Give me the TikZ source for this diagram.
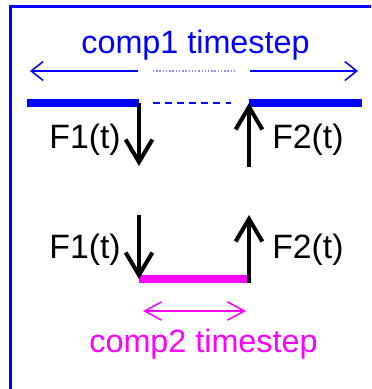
\documentclass[tikz,border=0pt]{standalone}
\usepackage{fontspec}
\setmainfont{Liberation Sans}
\usetikzlibrary{arrows.meta}
\definecolor{stepblue}{HTML}{0000FF}
\definecolor{steppink}{HTML}{FF00FF}
\definecolor{stepfaint}{HTML}{8C8CFF}

\begin{document}
\begin{tikzpicture}[
  x=0.025cm,
  y=-0.025cm,
  every node/.style={font=\fontsize{23}{27}\selectfont, inner sep=0pt},
  flabel/.style={font=\fontsize{24}{28}\selectfont},
  frame/.style={stepblue, line width=1.5pt},
  span/.style={line width=1.1pt},
  bar/.style={line width=5.7pt},
  gap/.style={stepblue, line width=1.4pt, dash pattern=on 5pt off 3.6pt},
  flux/.style={black, line width=2.9pt, -{Straight Barb[length=16pt, width=19pt]}}
]
  % ---- page and the visible part of the frame ---------------------------
  \useasboundingbox (0,0) rectangle (371,389);
  \draw[frame] (10.5,389) -- (10.5,6.5) -- (371,6.5);

  % ---- comp1 timestep ---------------------------------------------------
  \node[stepblue, anchor=base] (comp1) at (195.5,53) {comp1 timestep};
  \coordinate (c1a) at (30,71);
  \coordinate (c1b) at (138,71);
  \coordinate (c1c) at (250,71);
  \coordinate (c1d) at (358,71);
  \draw[span, stepblue, {Straight Barb[length=8.5pt, width=13.5pt]}-] (c1a) -- (c1b);
  \draw[span, stepblue, -{Straight Barb[length=8.5pt, width=13.5pt]}] (c1c) -- (c1d);
  \draw[stepfaint, line width=0.9pt, dash pattern=on 1pt off 1.3pt] (153,71) -- (235,71);

  % ---- the two comp1 steps ----------------------------------------------
  \coordinate (b1a) at (27,103);
  \coordinate (b1b) at (139,103);
  \coordinate (b1c) at (249,103);
  \coordinate (b1d) at (362,103);
  \draw[bar, stepblue] (b1a) -- (b1b);
  \draw[bar, stepblue] (b1c) -- (b1d);
  \draw[gap] (153,103) -- (231,103);

  % ---- fluxes at the upper level ----------------------------------------
  \coordinate (f1top) at (139,166);
  \coordinate (f2top) at (249,167);
  \draw[flux] (b1b) -- (f1top);
  \draw[flux] (f2top) -- (b1c);
  \node[flabel, anchor=base east] (lf1top) at (121,148) {F1(t)};
  \node[flabel, anchor=base west] (lf2top) at (272,148) {F2(t)};

  % ---- the comp2 step ---------------------------------------------------
  \coordinate (b2a) at (139,279);
  \coordinate (b2b) at (249,279);
  \coordinate (b2c) at (249,283);
  \coordinate (f1low) at (139,215);
  \coordinate (f2low) at (249,215);
  \draw[bar, steppink] (b2a) -- (b2b);
  \draw[flux] (f1low) -- (b2a);
  \draw[flux] (b2c) -- (f2low);
  \node[flabel, anchor=base east] (lf1low) at (121,258) {F1(t)};
  \node[flabel, anchor=base west] (lf2low) at (272,258) {F2(t)};

  % ---- comp2 timestep ---------------------------------------------------
  \coordinate (c2a) at (143,311);
  \coordinate (c2b) at (246,311);
  \draw[span, steppink, {Straight Barb[length=12pt, width=13pt]}-{Straight Barb[length=12pt, width=13pt]}] (c2a) -- (c2b);
  \node[steppink, anchor=base] (comp2) at (203.5,352) {comp2 timestep};
\end{tikzpicture}
\end{document}
